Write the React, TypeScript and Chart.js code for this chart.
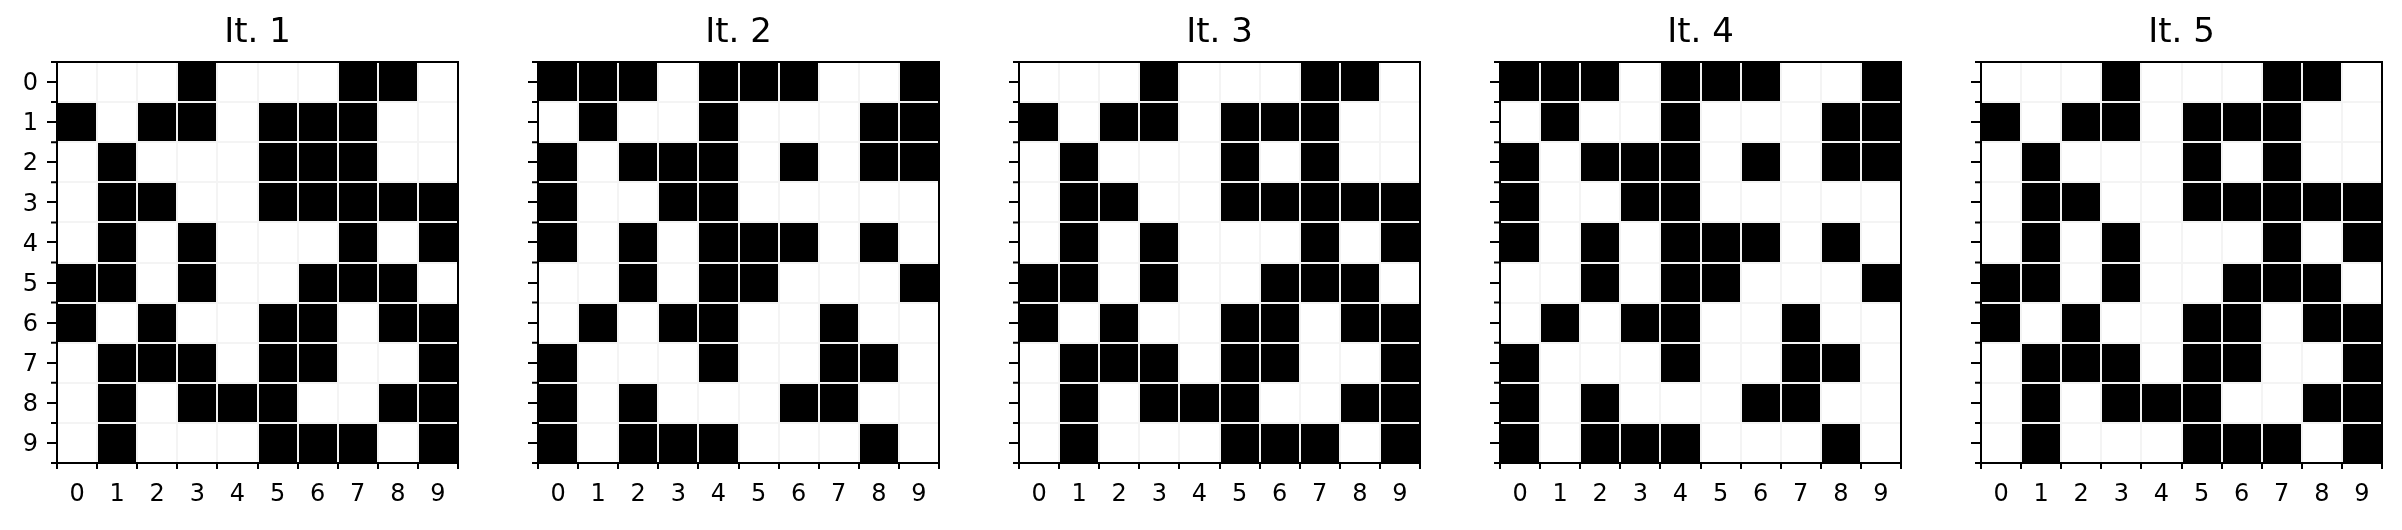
import React, { useEffect, useRef } from 'react';
import { Chart, registerables } from 'chart.js';

Chart.register(...registerables);

// ---------- data ----------
const columnLabels = ['0', '1', '2', '3', '4', '5', '6', '7', '8', '9'];
const rowLabels = ['0', '1', '2', '3', '4', '5', '6', '7', '8', '9'];
const panelTitles = ['It. 1', 'It. 2', 'It. 3', 'It. 4', 'It. 5'];

const iteration1 = [
  [0, 0, 0, 1, 0, 0, 0, 1, 1, 0],
  [1, 0, 1, 1, 0, 1, 1, 1, 0, 0],
  [0, 1, 0, 0, 0, 1, 1, 1, 0, 0],
  [0, 1, 1, 0, 0, 1, 1, 1, 1, 1],
  [0, 1, 0, 1, 0, 0, 0, 1, 0, 1],
  [1, 1, 0, 1, 0, 0, 1, 1, 1, 0],
  [1, 0, 1, 0, 0, 1, 1, 0, 1, 1],
  [0, 1, 1, 1, 0, 1, 1, 0, 0, 1],
  [0, 1, 0, 1, 1, 1, 0, 0, 1, 1],
  [0, 1, 0, 0, 0, 1, 1, 1, 0, 1],
];

const iteration2 = [
  [1, 1, 1, 0, 1, 1, 1, 0, 0, 1],
  [0, 1, 0, 0, 1, 0, 0, 0, 1, 1],
  [1, 0, 1, 1, 1, 0, 1, 0, 1, 1],
  [1, 0, 0, 1, 1, 0, 0, 0, 0, 0],
  [1, 0, 1, 0, 1, 1, 1, 0, 1, 0],
  [0, 0, 1, 0, 1, 1, 0, 0, 0, 1],
  [0, 1, 0, 1, 1, 0, 0, 1, 0, 0],
  [1, 0, 0, 0, 1, 0, 0, 1, 1, 0],
  [1, 0, 1, 0, 0, 0, 1, 1, 0, 0],
  [1, 0, 1, 1, 1, 0, 0, 0, 1, 0],
];

const iteration3 = [
  [0, 0, 0, 1, 0, 0, 0, 1, 1, 0],
  [1, 0, 1, 1, 0, 1, 1, 1, 0, 0],
  [0, 1, 0, 0, 0, 1, 0, 1, 0, 0],
  [0, 1, 1, 0, 0, 1, 1, 1, 1, 1],
  [0, 1, 0, 1, 0, 0, 0, 1, 0, 1],
  [1, 1, 0, 1, 0, 0, 1, 1, 1, 0],
  [1, 0, 1, 0, 0, 1, 1, 0, 1, 1],
  [0, 1, 1, 1, 0, 1, 1, 0, 0, 1],
  [0, 1, 0, 1, 1, 1, 0, 0, 1, 1],
  [0, 1, 0, 0, 0, 1, 1, 1, 0, 1],
];

const iteration4 = [
  [1, 1, 1, 0, 1, 1, 1, 0, 0, 1],
  [0, 1, 0, 0, 1, 0, 0, 0, 1, 1],
  [1, 0, 1, 1, 1, 0, 1, 0, 1, 1],
  [1, 0, 0, 1, 1, 0, 0, 0, 0, 0],
  [1, 0, 1, 0, 1, 1, 1, 0, 1, 0],
  [0, 0, 1, 0, 1, 1, 0, 0, 0, 1],
  [0, 1, 0, 1, 1, 0, 0, 1, 0, 0],
  [1, 0, 0, 0, 1, 0, 0, 1, 1, 0],
  [1, 0, 1, 0, 0, 0, 1, 1, 0, 0],
  [1, 0, 1, 1, 1, 0, 0, 0, 1, 0],
];

const iteration5 = [
  [0, 0, 0, 1, 0, 0, 0, 1, 1, 0],
  [1, 0, 1, 1, 0, 1, 1, 1, 0, 0],
  [0, 1, 0, 0, 0, 1, 0, 1, 0, 0],
  [0, 1, 1, 0, 0, 1, 1, 1, 1, 1],
  [0, 1, 0, 1, 0, 0, 0, 1, 0, 1],
  [1, 1, 0, 1, 0, 0, 1, 1, 1, 0],
  [1, 0, 1, 0, 0, 1, 1, 0, 1, 1],
  [0, 1, 1, 1, 0, 1, 1, 0, 0, 1],
  [0, 1, 0, 1, 1, 1, 0, 0, 1, 1],
  [0, 1, 0, 0, 0, 1, 1, 1, 0, 1],
];

const iterations = [iteration1, iteration2, iteration3, iteration4, iteration5];

// ---------- layout / style ----------
const FONT = "'DejaVu Sans', 'Liberation Sans', sans-serif";
const AX_LEFT = [57, 538, 1019, 1500, 1981];
const AX_W = 401;
const Y_AXIS_W = 57;
const X_AXIS_H = 67;
const CANVAS_W = 478;
const CANVAS_H = 530;
const GRID_COLOR = '#f4f4f4';

const minorTickPlugin = {
  id: 'minorYTicks',
  afterDraw(chart: any) {
    const ys = chart.scales.y;
    const { left } = chart.chartArea;
    const ctx = chart.ctx;
    ctx.save();
    ctx.strokeStyle = '#000';
    ctx.lineWidth = 2;
    ctx.beginPath();
    ys.ticks.forEach((t: any) => {
      if (!Number.isInteger(t.value)) {
        const py = ys.getPixelForValue(t.value);
        ctx.moveTo(left - 6, py);
        ctx.lineTo(left, py);
      }
    });
    ctx.stroke();
    ctx.restore();
  },
};

function Panel({ index }: { index: number }) {
  const ref = useRef<HTMLCanvasElement | null>(null);

  useEffect(() => {
    if (!ref.current) return;
    const grid = iterations[index];
    const datasets = rowLabels.map((_, r) => ({
      label: 'row ' + rowLabels[r],
      data: columnLabels.map((_, c) => (grid[r][c] ? [r - 0.5, r + 0.5] : null)),
      backgroundColor: '#000000',
      borderWidth: 0,
      barPercentage: 1,
      categoryPercentage: 1,
      grouped: false,
      xAxisID: 'x',
      yAxisID: 'y',
    }));

    const yTickValues: number[] = [];
    for (let k = 0; k <= rowLabels.length * 2; k++) yTickValues.push(k / 2 - 0.5);
    const yMin = -0.5;
    const yMax = rowLabels.length - 0.5;
    const showYLabels = index === 0;

    const chart = new Chart(ref.current, {
      type: 'bar',
      data: { labels: columnLabels, datasets: datasets as any },
      plugins: [minorTickPlugin],
      options: {
        responsive: false,
        maintainAspectRatio: false,
        animation: false,
        devicePixelRatio: 1,
        events: [],
        layout: { padding: { left: 0, top: 0, bottom: 0, right: CANVAS_W - Y_AXIS_W - AX_W } },
        plugins: {
          legend: { display: false },
          tooltip: { enabled: false },
          title: {
            display: true,
            text: panelTitles[index],
            color: '#000',
            fullSize: false,
            font: { family: FONT, size: 34, weight: 'normal', lineHeight: 1.2 },
            padding: { top: 13, bottom: 8.2 },
          },
        },
        scales: {
          x: {
            type: 'category',
            position: 'bottom',
            offset: true,
            grid: {
              z: 1,
              offset: true,
              display: true,
              drawOnChartArea: true,
              drawTicks: true,
              lineWidth: 2,
              tickLength: 6,
              tickWidth: 2,
              tickColor: '#000',
              color: (ctx: any) =>
                ctx.index === undefined || ctx.index === 0 ? 'rgba(0,0,0,0)' : GRID_COLOR,
            },
            border: { display: true, color: '#000', width: 2, z: 2 },
            ticks: {
              z: 1,
              autoSkip: false,
              maxRotation: 0,
              minRotation: 0,
              padding: 11,
              color: '#000',
              font: { family: FONT, size: 24 },
            },
            afterFit: (scale: any) => {
              scale.height = X_AXIS_H;
            },
          },
          y: {
            type: 'linear',
            position: 'left',
            reverse: true,
            min: yMin,
            max: yMax,
            afterBuildTicks: (scale: any) => {
              scale.ticks = yTickValues.map((v) => ({ value: v }));
            },
            grid: {
              z: 1,
              display: true,
              drawOnChartArea: true,
              drawTicks: true,
              lineWidth: 2,
              tickLength: 10,
              tickWidth: 2,
              tickColor: (ctx: any) =>
                ctx.tick && Number.isInteger(ctx.tick.value) ? '#000' : 'rgba(0,0,0,0)',
              color: (ctx: any) => {
                const v = ctx.tick ? ctx.tick.value : null;
                if (v === null || Number.isInteger(v) || v === yMin || v === yMax) return 'rgba(0,0,0,0)';
                return GRID_COLOR;
              },
            },
            border: { display: true, color: '#000', width: 2, z: 2 },
            ticks: {
              z: 1,
              autoSkip: false,
              padding: 9,
              labelOffset: 2,
              color: '#000',
              font: { family: FONT, size: 24 },
              callback: (value: any) => {
                const v = Number(value);
                if (!showYLabels || !Number.isInteger(v)) return '';
                return rowLabels[v] ?? '';
              },
            },
            afterFit: (scale: any) => {
              scale.width = Y_AXIS_W;
            },
          },
          xTop: {
            type: 'linear',
            position: 'top',
            display: true,
            grid: { display: false, drawTicks: false },
            border: { display: true, color: '#000', width: 2, z: 2 },
            ticks: { display: false },
            afterFit: (scale: any) => {
              scale.height = 0;
            },
          },
          yRight: {
            type: 'linear',
            position: 'right',
            display: true,
            grid: { display: false, drawTicks: false },
            border: { display: true, color: '#000', width: 2, z: 2 },
            ticks: { display: false },
            afterFit: (scale: any) => {
              scale.width = 0;
            },
          },
        },
      } as any,
    });

    return () => chart.destroy();
  }, [index]);

  return (
    <canvas
      ref={ref}
      width={CANVAS_W}
      height={CANVAS_H}
      style={{
        position: 'absolute',
        left: AX_LEFT[index] - Y_AXIS_W,
        top: 0,
        width: CANVAS_W,
        height: CANVAS_H,
      }}
    />
  );
}

export default function App() {
  return (
    <div
      style={{
        position: 'fixed',
        left: 0,
        top: 0,
        width: 2402,
        height: 530,
        background: '#ffffff',
        overflow: 'hidden',
      }}
    >
      {panelTitles.map((_, i) => (
        <Panel key={i} index={i} />
      ))}
    </div>
  );
}
